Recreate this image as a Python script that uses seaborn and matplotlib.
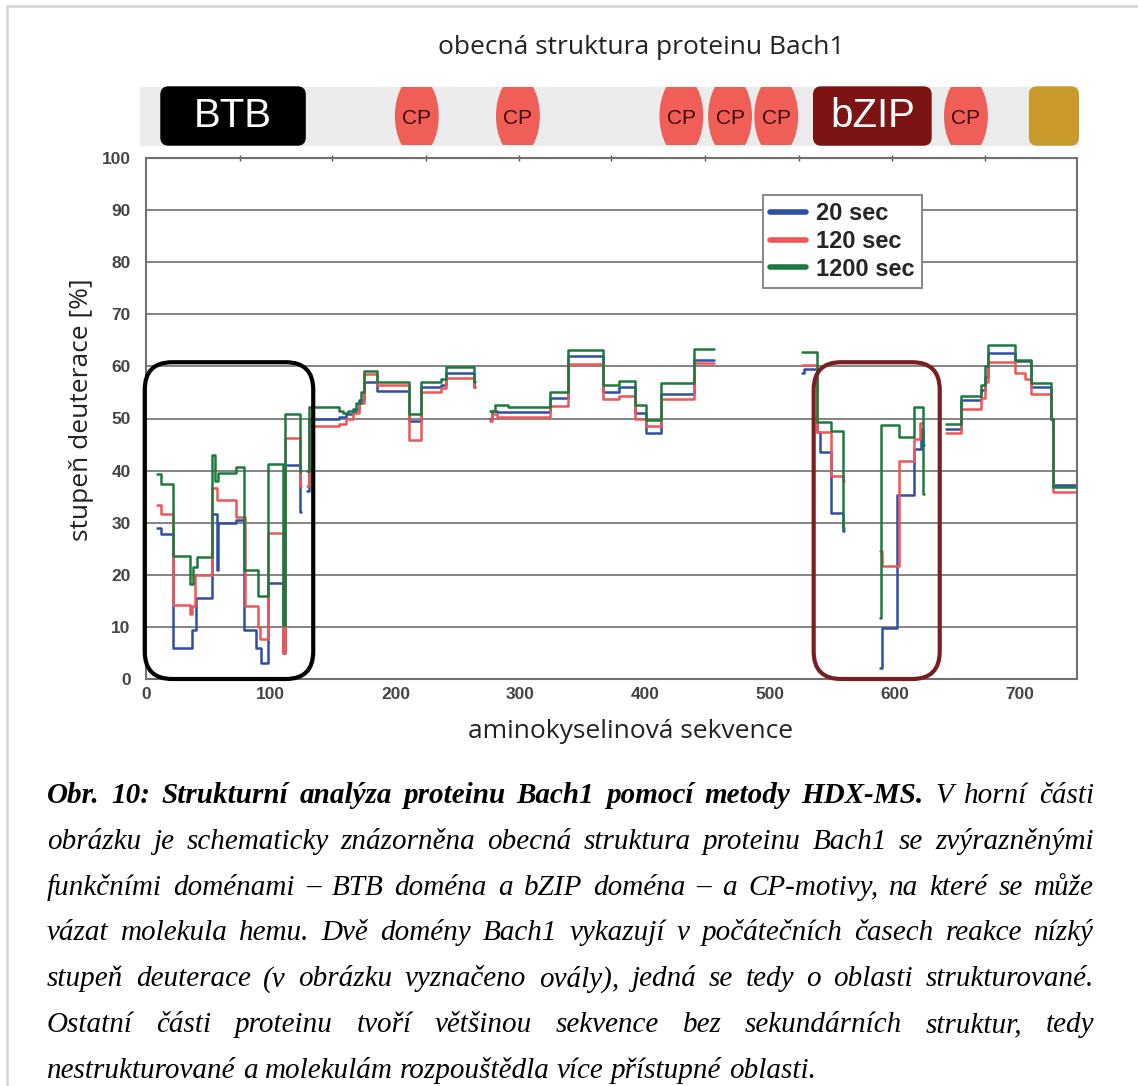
import numpy as np
import pandas as pd
import matplotlib.pyplot as plt
import seaborn as sns
from matplotlib.patches import FancyBboxPatch, Rectangle, Ellipse
from matplotlib.lines import Line2D

# --------------------------------------------------------------
# Data (residue position, deuteration %) ; nan = gap between peptides
# --------------------------------------------------------------
nan = np.nan
pos_20 = [9, 12, 22, 37, 40, 52.5, 56.5, 58, 72.5, 78.5, 88, 92, 98, 110, 111.5, 123, 124, nan,
          129, 131, 155, 160, 166, 171, 175, 185, 210.5, 220.5, 236, 240, 263, 264, nan,
          276, 277, 281, 324, 338, 366, 379, 392, 401, 413, 439, 455, nan,
          526, 527, 538, 540, 549, 558.5, 559.5, nan,
          588, 589.5, 601.5, 615, 621, 622.5, 623.5, nan,
          641, 653, 669, 672, 675, 696, 709, 725, 727, 747]
deut_20 = [29, 27.8, 6, 9.5, 15.5, 31.7, 21, 30, 30.5, 9.5, 6, 3, 18.5, 5, 41, 32, 32, nan,
           36, 50, 50.3, 50.8, 51.8, 53.5, 57.1, 55.2, 49.5, 56, 56.5, 58.7, 56, 56, nan,
           50, 51.5, 51.2, 54, 62, 55, 56, 51, 47.2, 54.7, 61.3, 61.3, nan,
           58.8, 59.5, 47.5, 43.5, 31.8, 28.5, 28.5, nan,
           2.2, 9.7, 35.3, 44.2, 48, 45, 45, nan,
           48, 53.5, 55.5, 58, 62.6, 61, 56, 50, 37.3, 37.3]

pos_120 = [9, 12, 22, 35, 37, 39.5, 52.5, 57, 72.5, 79, 90, 91.5, 98, 110, 111.5, 123, 124, nan,
           129, 131, 155, 160, 166, 171, 175, 185, 210.5, 220.5, 236, 240, 263, 264, nan,
           276, 277, 281, 324, 338, 366, 379, 392, 401, 413, 439, 455, nan,
           526, 538, 549, 558.5, 559.5, nan,
           588.5, 590, 603.5, 615, 620.5, 622.5, nan,
           641, 653, 669, 672, 675, 696, 704, 709, 725, 727, 747]
deut_120 = [33.4, 31.7, 14.2, 12.5, 14, 20, 36.6, 34.3, 31, 14, 10, 7.7, 28.1, 5, 46.3, 37, 37, nan,
            37, 48.5, 49, 50, 51, 53, 58.5, 56.5, 45.8, 55, 55.8, 57.8, 56, 56, nan,
            49.5, 50.8, 50.2, 52.4, 60.5, 53.7, 54.4, 50, 48.5, 53.7, 60.7, 60.7, nan,
            60.3, 47.5, 38.9, 38, 38, nan,
            24.5, 21.6, 41.9, 46, 49.2, 49.2, nan,
            47.3, 51.9, 54, 57, 60.8, 58.8, 57.5, 54.7, 50, 35.8, 35.8]

pos_1200 = [9, 12, 22, 35, 38, 40.5, 52.5, 55, 58, 72.5, 78.5, 90, 98, 110, 111.5, 123, 124, nan,
            129, 131, 155, 158, 162, 168, 172, 175, 185, 210.5, 220.5, 236, 240, 263, 264, nan,
            276, 280, 290, 324, 338, 366, 379, 392, 401, 413, 439, 455, nan,
            526, 538, 549, 558.7, 559.5, nan,
            588, 589.3, 603, 615, 622.7, 623.5, nan,
            641, 653, 669, 672, 675, 696, 709, 725, 727, 747]
deut_1200 = [39.3, 37.5, 23.6, 18.3, 21.5, 23.5, 43, 38, 39.5, 40.7, 21, 16, 41.2, 10.4, 50.8, 40, 40, nan,
             40, 52.2, 51.5, 51, 51.5, 53, 55, 59.2, 57.1, 50.8, 57.1, 57.5, 59.9, 57, 57, nan,
             51.5, 52.6, 52.2, 55, 63.1, 56.4, 57.2, 52.6, 49.7, 56.8, 63.3, 63.3, nan,
             62.7, 49.4, 47.6, 29, 29, nan,
             11.8, 48.7, 46.5, 52.2, 35.5, 35.5, nan,
             49, 54.4, 56.5, 60, 64.1, 61.2, 56.8, 50, 36.9, 36.9]

times = ["20 sec", "120 sec", "1200 sec"]
colors = ["#2f4ea6", "#f05656", "#1d7a3e"]

# protein scheme (residue ranges)
domain_names = ["BTB", "bZIP", ""]
domain_start = [12, 535, 708]
domain_end = [127.5, 629, 747]
domain_colors = ["#000000", "#7c1414", "#c9992b"]
cp_centers = [217, 298, 429, 468, 505, 657]

top_ticks = [75, 149, 224, 299, 373, 448, 523, 598, 672]

# --------------------------------------------------------------
# Building long table
# --------------------------------------------------------------
frames = []
for label, xs, ys in zip(times, [pos_20, pos_120, pos_1200], [deut_20, deut_120, deut_1200]):
    d = pd.DataFrame({"pos": xs, "deut": ys})
    d["seg"] = d["pos"].isna().cumsum()
    d = d.dropna()
    d["time"] = label
    frames.append(d)
df = pd.concat(frames, ignore_index=True)

# --------------------------------------------------------------
# Figure
# --------------------------------------------------------------
sns.set_style("white")
W, H = 1138, 1086
fig = plt.figure(figsize=(W / 100, H / 100), dpi=100)

ax = fig.add_axes([146 / W, 1 - 679 / H, 931 / W, 521 / H])
sns.lineplot(data=df, x="pos", y="deut", hue="time", units="seg", estimator=None,
             palette=dict(zip(times, colors)), drawstyle="steps-post",
             linewidth=1.8, legend=False, ax=ax)

ax.set_xlim(0, 746)
ax.set_ylim(0, 100)
ax.set_xlabel("")
ax.set_ylabel("")
ax.set_xticks(range(0, 701, 100))
ax.set_xticks(range(0, 741, 20), minor=True)
ax.set_yticks(range(0, 101, 10))
ax.grid(axis="y", color="#707070", linewidth=1.2)
ax.set_axisbelow(True)
for s in ax.spines.values():
    s.set_color("#707070")
    s.set_linewidth(1.5)
tick_font = {"family": "Liberation Sans", "weight": "bold", "size": 12.5}
ax.tick_params(axis="x", which="both", direction="inout", length=5, width=1, color="#555555",
               pad=3, labelcolor="#444444")
ax.tick_params(axis="y", direction="out", length=3, width=1, color="#555555", pad=8,
               labelcolor="#444444")
for lab in ax.get_xticklabels() + ax.get_yticklabels():
    lab.set_fontproperties(tick_font)

sec = ax.secondary_xaxis("top")
sec.set_xticks(top_ticks, labels=[])
sec.tick_params(direction="inout", length=5, width=1, color="#555555")
sec.spines["top"].set_color("#707070")

# rounded boxes around structured regions
for x0, x1, col in [(-1, 134, "black"), (535, 636, "#7a1f1f")]:
    ax.add_patch(FancyBboxPatch((x0, 0), x1 - x0, 60.8,
                                boxstyle="round,pad=0,rounding_size=22", mutation_aspect=0.24,
                                fill=False, ec=col, lw=3.0, clip_on=False, zorder=5))

handles = [Line2D([], [], color=c, lw=4) for c in colors]
leg = ax.legend(handles, times, loc="upper left", bbox_to_anchor=(0.663, 0.929),
                prop={"family": "Liberation Sans", "weight": "bold", "size": 17},
                frameon=True, fancybox=False, edgecolor="#888888", framealpha=1,
                borderpad=0.3, labelspacing=0.2, handlelength=1.5, handletextpad=0.45,
                borderaxespad=0)
leg.get_frame().set_linewidth(1.4)

# --------------------------------------------------------------
# Protein scheme bar
# --------------------------------------------------------------
bx = fig.add_axes([146 / W, 1 - 145 / H, 931 / W, 58 / H])
bx.set_xlim(0, 746)
bx.set_ylim(0, 1)
bx.axis("off")
bar = Rectangle((-4.8, 0), 751.8, 1, color="#ececec", clip_on=False, zorder=1)
bx.add_patch(bar)
for name, s, e, c in zip(domain_names, domain_start, domain_end, domain_colors):
    bx.add_patch(FancyBboxPatch((s, 0), e - s, 1, boxstyle="round,pad=0,rounding_size=6",
                                mutation_aspect=0.022, color=c, clip_on=False, zorder=3))
    if name:
        bx.text((s + e) / 2, 0.5, name, color="white", ha="center", va="center",
                family="Liberation Sans", fontsize=29, zorder=4)
for c in cp_centers:
    el = Ellipse((c, 0.5), 34, 1.35, color="#ef5f57", zorder=2)
    bx.add_patch(el)
    el.set_clip_path(bar)
    bx.text(c, 0.45, "CP", color="#3d0a0a", ha="center", va="center",
            family="Liberation Sans", fontsize=15, zorder=4)

# --------------------------------------------------------------
# Texts
# --------------------------------------------------------------
fig.text(641 / W, 1 - 47 / H, "obecná struktura proteinu Bach1", ha="center", va="center",
         family="Open Sans", fontsize=19, color="#222222")
fig.text(631 / W, 1 - 731 / H, "aminokyselinová sekvence", ha="center", va="center",
         family="Open Sans", fontsize=19, color="#222222")
fig.text(82 / W, 1 - 410 / H, "stupeň deuterace [%]", ha="center", va="center", rotation=90,
         family="Open Sans", fontsize=19, color="#222222")

# page frame
fig.add_artist(Line2D([7 / W, 1], [1 - 6 / H, 1 - 6 / H], color="#d4d4d4", lw=1.8))
fig.add_artist(Line2D([7 / W, 7 / W], [0, 1 - 6 / H], color="#d4d4d4", lw=1.8))

# --------------------------------------------------------------
# Caption, justified
# --------------------------------------------------------------
caption = [
    ("Obr. 10:  Strukturní analýza proteinu Bach1 pomocí metody HDX-MS.", "V horní části"),
    ("", "obrázku je schematicky znázorněna obecná struktura proteinu Bach1 se zvýrazněnými"),
    ("", "funkčními doménami – BTB doména a bZIP doména – a CP-motivy, na které se může"),
    ("", "vázat molekula hemu. Dvě domény Bach1 vykazují v\u00a0počátečních časech reakce nízký"),
    ("", "stupeň deuterace (v obrázku vyznačeno ovály), jedná se tedy o oblasti strukturované."),
    ("", "Ostatní části proteinu tvoří většinou sekvence bez sekundárních struktur, tedy"),
    ("", "nestrukturované a molekulám rozpouštědla více přístupné oblasti."),
]
renderer = fig.canvas.get_renderer()
x_left, x_right = 47, 1094
for i, (bold_part, normal_part) in enumerate(caption):
    y = 1 - (803 + 45.8 * i) / H
    words = [(w, "bold") for w in bold_part.split()] + [(w, "normal") for w in normal_part.split()]
    texts = [fig.text(0, y, w, family="Liberation Serif", style="italic", weight=wt,
                      fontsize=21, va="baseline", ha="left", color="black") for w, wt in words]
    widths = [t.get_window_extent(renderer).width for t in texts]
    if i == len(caption) - 1:
        gap = 7.3
    else:
        gap = (x_right - x_left - sum(widths)) / (len(words) - 1)
    x = x_left
    for t, w in zip(texts, widths):
        t.set_x(x / W)
        x += w + gap

fig.savefig("out.png", dpi=100, facecolor="white")
